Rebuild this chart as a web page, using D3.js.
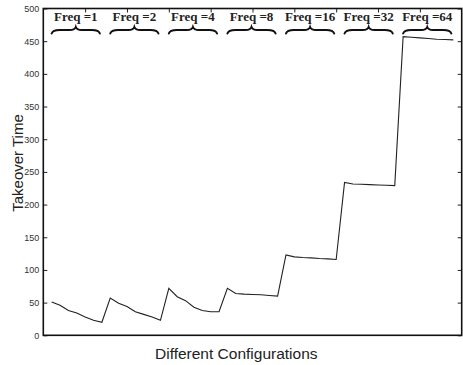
<!DOCTYPE html>
<html><head><meta charset="utf-8">
<script src="https://cdn.jsdelivr.net/npm/d3@7"></script>
<style>body{margin:0;background:#fff}svg{display:block}</style>
</head><body>
<script>
const groups = ["Freq =1","Freq =2","Freq =4","Freq =8","Freq =16","Freq =32","Freq =64"];
const g1 = [51, 46, 38, 34, 28, 23, 20];
const g2 = [57, 49, 44, 36, 32, 28, 23];
const g3 = [72, 59, 53, 43, 38, 36, 36];
const g4 = [72, 64, 63, 62.5, 62, 61, 60];
const g5 = [123, 120, 119, 118.5, 117.5, 117, 116];
const g6 = [234, 231.5, 231, 230.5, 230, 229.5, 229];
const g7 = [457, 456, 455, 454, 453, 452.5, 452];
const yTicks = [0,50,100,150,200,250,300,350,400,450,500];
const xTicks = [5,10,15,20,25,30,35,40,45];
const series = [g1,g2,g3,g4,g5,g6,g7];

const W=463,H=365;
const m={l:43.3,r:1.3,t:8.5,b:29.7};
const svg=d3.select("body").append("svg").attr("width",W).attr("height",H);
const x=d3.scaleLinear().domain([0,50]).range([m.l,W-m.r]);
const y=d3.scaleLinear().domain([0,500]).range([H-m.b,m.t]);

const data=[];
series.forEach((s,gi)=>s.forEach((v,i)=>data.push({i:gi*7+i+1,v})));

// axes
const axL=svg.append("g").attr("transform",`translate(${m.l},0)`)
  .call(d3.axisLeft(y).tickValues(yTicks).tickSizeInner(-4).tickSizeOuter(0).tickPadding(4));
const axR=svg.append("g").attr("transform",`translate(${W-m.r},0)`)
  .call(d3.axisRight(y).tickValues(yTicks).tickSizeInner(-4).tickSizeOuter(0).tickFormat(""));
const axT=svg.append("g").attr("transform",`translate(0,${m.t})`)
  .call(d3.axisTop(x).tickValues(xTicks).tickSizeInner(-4).tickSizeOuter(0).tickFormat(""));
[axL,axR,axT].forEach(a=>{a.select(".domain").remove();a.selectAll("line").attr("stroke","#222").attr("stroke-width",1);});
axL.selectAll("text").attr("font-family","Liberation Sans, Arial, sans-serif").attr("font-size",9).attr("fill","#333");

svg.append("rect").attr("x",m.l).attr("y",m.t).attr("width",W-m.l-m.r).attr("height",H-m.t-m.b)
  .attr("fill","none").attr("stroke","#111").attr("stroke-width",1.6);

// line
svg.append("path").datum(data).attr("fill","none").attr("stroke","#222").attr("stroke-width",1.1)
  .attr("d",d3.line().x(d=>x(d.i)).y(d=>y(d.v)));

// braces and labels
groups.forEach((g,gi)=>{
  const x0=x(gi*7+1), x1=x(gi*7+7)-2, xm=(x0+x1)/2;
  const yt=27, ya=30, yb=33.5;
  const p=`M${x0},${yb} Q${x0+1},${ya} ${x0+8},${ya} L${xm-6},${ya} Q${xm-1},${ya} ${xm},${yt} Q${xm+1},${ya} ${xm+6},${ya} L${x1-8},${ya} Q${x1-1},${ya} ${x1},${yb}`;
  svg.append("path").attr("d",p).attr("fill","none").attr("stroke","#111").attr("stroke-width",2).attr("stroke-linecap","round");
  svg.append("text").attr("x",xm).attr("y",20.5).attr("text-anchor","middle")
    .attr("font-family","Liberation Serif, Times New Roman, serif").attr("font-weight","bold").attr("font-size",13)
    .attr("fill","#222").text(g);
});

svg.append("text").attr("transform",`translate(22.5,163) rotate(-90)`).attr("text-anchor","middle")
  .attr("font-family","Liberation Sans, Arial, sans-serif").attr("font-size",15).attr("fill","#222").text("Takeover Time");
svg.append("text").attr("x",155).attr("y",359).attr("text-anchor","start")
  .attr("font-family","Liberation Sans, Arial, sans-serif").attr("font-size",15.5).attr("fill","#222").text("Different Configurations");
</script>
</body></html>
